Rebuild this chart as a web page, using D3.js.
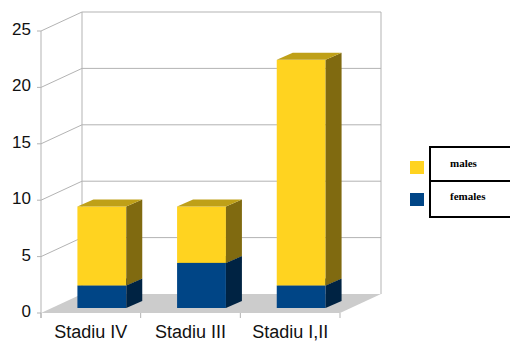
<!DOCTYPE html>
<html><head><meta charset="utf-8">
<script src="https://cdn.jsdelivr.net/npm/d3@7"></script>
<style>html,body{margin:0;padding:0;background:#fff;overflow:hidden}</style>
</head><body>
<svg id="c" width="510" height="342"></svg>
<script>
const categories = ["Stadiu IV", "Stadiu III", "Stadiu I,II"];
const females = [2, 4, 2];
const males = [7, 5, 20];
const yTicks = [0, 5, 10, 15, 20, 25];
const seriesNames = ["males", "females"];

const svg = d3.select("#c");
const front = {x0: 41, x1: 340, y0: 313};
const depth = {dx: 41, dy: -19};
const barOff = {dx: 11, dy: -5};
const barDepth = {dx: 16, dy: -7};

const y = d3.scaleLinear().domain([0, 25]).range([313, 31]);
const x = d3.scaleBand().domain(categories).range([front.x0, front.x1]);
const grid = "#b3b3b3";

// floor
svg.append("polygon")
  .attr("points", [[front.x0, y(0)], [front.x1, y(0)], [front.x1 + depth.dx, y(0) + depth.dy], [front.x0 + depth.dx, y(0) + depth.dy]].map(p => p.join(",")).join(" "))
  .attr("fill", "#cccccc");

// gridlines: left wall diagonals + back wall horizontals
const g = svg.append("g").attr("stroke", grid).attr("stroke-width", 1).attr("fill", "none");
yTicks.forEach(t => {
  const yy = y(t);
  if (t > 0) {
    g.append("path").attr("d", `M${front.x0},${yy}L${front.x0 + depth.dx},${yy + depth.dy}L${front.x1 + depth.dx},${yy + depth.dy}`);
  }
});
// back wall verticals
g.append("line").attr("x1", front.x0 + depth.dx).attr("x2", front.x0 + depth.dx).attr("y1", y(25) + depth.dy).attr("y2", y(0) + depth.dy);
g.append("line").attr("x1", front.x1 + depth.dx).attr("x2", front.x1 + depth.dx).attr("y1", y(25) + depth.dy).attr("y2", y(0) + depth.dy);
// front y axis
g.append("line").attr("x1", front.x0).attr("x2", front.x0).attr("y1", y(25)).attr("y2", y(0) + 5);
yTicks.forEach(t => {
  g.append("line").attr("x1", front.x0 - 4).attr("x2", front.x0).attr("y1", y(t)).attr("y2", y(t));
});
// x ticks
const edges = categories.map(c => x(c)).concat([front.x1]);
edges.forEach(e => {
  g.append("line").attr("x1", e).attr("x2", e).attr("y1", y(0)).attr("y2", y(0) + 5);
});

// y labels
svg.append("g").selectAll("text").data(yTicks).join("text")
  .attr("x", 31).attr("y", d => y(d) + 4)
  .attr("text-anchor", "end")
  .attr("font-family", "Liberation Sans, Arial, sans-serif")
  .attr("font-size", 17).attr("fill", "#111")
  .text(d => d);

// x labels
svg.append("g").selectAll("text").data(categories).join("text")
  .attr("x", d => x(d) + x.bandwidth() / 2)
  .attr("y", 338)
  .attr("text-anchor", "middle")
  .attr("font-family", "Liberation Sans, Arial, sans-serif")
  .attr("font-size", 18).attr("fill", "#111")
  .text(d => d);

// bars
const colors = {
  females: {front: "#004586", side: "#002343", top: "#003466"},
  males: {front: "#ffd320", side: "#806a10", top: "#bfa018"}
};
const bw = x.bandwidth() * 0.49;
const stacks = categories.map((c, i) => [
  {s: "females", lo: 0, hi: females[i]},
  {s: "males", lo: females[i], hi: females[i] + males[i]}
]);
const bars = svg.append("g");
categories.forEach((c, i) => {
  const x0 = x(c) + (x.bandwidth() - bw) / 2 + barOff.dx;
  const x1 = x0 + bw;
  stacks[i].forEach(seg => {
    const yt = y(seg.hi) + barOff.dy, yb = y(seg.lo) + barOff.dy;
    const col = colors[seg.s];
    bars.append("rect").attr("x", x0).attr("y", yt).attr("width", bw).attr("height", yb - yt).attr("fill", col.front);
    bars.append("polygon").attr("points", [[x1, yt], [x1 + barDepth.dx, yt + barDepth.dy], [x1 + barDepth.dx, yb + barDepth.dy], [x1, yb]].map(p => p.join(",")).join(" ")).attr("fill", col.side);
    bars.append("polygon").attr("points", [[x0, yt], [x1, yt], [x1 + barDepth.dx, yt + barDepth.dy], [x0 + barDepth.dx, yt + barDepth.dy]].map(p => p.join(",")).join(" ")).attr("fill", col.top);
  });
});

// legend
const lg = svg.append("g");
lg.append("rect").attr("x", 430).attr("y", 147).attr("width", 100).attr("height", 70).attr("fill", "#fff").attr("stroke", "#000").attr("stroke-width", 2);
lg.append("line").attr("x1", 430).attr("x2", 530).attr("y1", 181).attr("y2", 181).attr("stroke", "#000").attr("stroke-width", 2);
seriesNames.forEach((s, i) => {
  lg.append("rect").attr("x", 410).attr("y", 161 + i * 32).attr("width", 14).attr("height", 13).attr("fill", colors[s].front);
  lg.append("text").attr("x", 450).attr("y", 167 + i * 33)
    .attr("font-family", "Liberation Serif, Times New Roman, serif")
    .attr("font-weight", "bold").attr("font-size", 11).attr("fill", "#000")
    .text(s);
});
</script>
</body></html>
